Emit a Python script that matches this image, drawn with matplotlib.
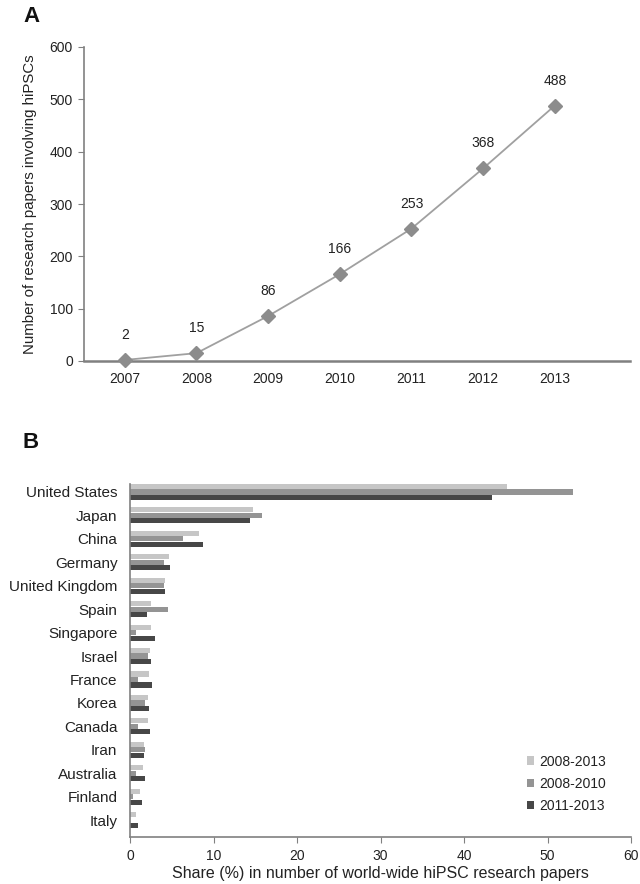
import matplotlib
matplotlib.use("Agg")
import matplotlib.pyplot as plt
import numpy as np

plt.rcParams['font.family'] = ['Liberation Sans', 'DejaVu Sans']

years = [2007, 2008, 2009, 2010, 2011, 2012, 2013]
papers = [2, 15, 86, 166, 253, 368, 488]

countries = ["United States", "Japan", "China", "Germany", "United Kingdom", "Spain",
             "Singapore", "Israel", "France", "Korea", "Canada", "Iran", "Australia",
             "Finland", "Italy"]
share_2008_2013 = [45.2, 14.7, 8.3, 4.7, 4.15, 2.5, 2.5, 2.4, 2.3, 2.2, 2.1, 1.7, 1.5, 1.2, 0.7]
share_2008_2010 = [53.0, 15.8, 6.3, 4.1, 4.1, 4.5, 0.7, 2.15, 1.0, 1.8, 1.0, 1.8, 0.7, 0.3, 0.0]
share_2011_2013 = [43.4, 14.4, 8.8, 4.8, 4.2, 2.0, 3.0, 2.5, 2.6, 2.3, 2.4, 1.7, 1.75, 1.4, 0.9]
series_labels = ["2008-2013", "2008-2010", "2011-2013"]
series_colors = ["#c6c6c6", "#949494", "#474747"]

W, H = 640, 884
fig = plt.figure(figsize=(W / 100, H / 100), dpi=100)

def frac(x0, y0, x1, y1):
    return [x0 / W, 1 - y1 / H, (x1 - x0) / W, (y1 - y0) / H]

spine_c = "#808080"
txt_c = "#222222"

# Panel A
ax1 = fig.add_axes(frac(84, 47, 630, 361))
ax1.plot(years, papers, color="#a0a0a0", lw=1.3, marker="D", markersize=7,
         markerfacecolor="#8c8c8c", markeredgecolor="#8c8c8c", zorder=3, clip_on=False)
for x, y in zip(years, papers):
    ax1.annotate(str(y), (x, y), xytext=(0, 13), textcoords="offset points",
                 ha="center", va="bottom", fontsize=10, color=txt_c)
ax1.set_xlim(2006.43, 2014.05)
ax1.set_ylim(0, 600)
ax1.set_yticks(range(0, 601, 100))
ax1.set_xticks(years)
for s in ["top", "right"]:
    ax1.spines[s].set_visible(False)
ax1.spines["left"].set_color(spine_c)
ax1.spines["bottom"].set_color(spine_c)
ax1.spines["left"].set_linewidth(1.2)
ax1.spines["bottom"].set_linewidth(1.8)
ax1.tick_params(axis="y", length=4, color=spine_c, labelsize=10, labelcolor=txt_c, pad=4)
ax1.tick_params(axis="x", length=0, labelsize=10, labelcolor=txt_c, pad=8)
ax1.set_ylabel("Number of research papers involving hiPSCs", fontsize=10.8, color=txt_c, labelpad=9)
fig.text(23 / W, 1 - 16 / H, "A", fontsize=16, fontweight="bold", ha="left", va="center", color="#111111")

# Panel B
ax2 = fig.add_axes(frac(130, 484, 631, 837))
pos = np.arange(len(countries))
bh = 0.22
offsets = [-0.235, 0.0, 0.235]
for vals, lab, col, off in zip([share_2008_2013, share_2008_2010, share_2011_2013],
                               series_labels, series_colors, offsets):
    ax2.barh(pos + off, vals, height=bh, color=col, label=lab)
ax2.set_ylim(14.72, -0.34)
ax2.set_xlim(0, 60)
ax2.set_xticks(range(0, 61, 10))
ax2.set_yticks(pos)
ax2.set_yticklabels(countries)
for s in ["top", "right"]:
    ax2.spines[s].set_visible(False)
ax2.spines["left"].set_color(spine_c)
ax2.spines["bottom"].set_color(spine_c)
ax2.spines["left"].set_linewidth(1.2)
ax2.spines["bottom"].set_linewidth(1.2)
ax2.tick_params(axis="y", length=0, labelsize=11, labelcolor=txt_c, pad=9)
ax2.tick_params(axis="x", length=4, color=spine_c, labelsize=10, labelcolor=txt_c, pad=5)
ax2.set_xlabel("Share (%) in number of world-wide hiPSC research papers", fontsize=11.5,
               color=txt_c, labelpad=2)
leg = ax2.legend(loc="lower right", bbox_to_anchor=(0.975, 0.032), frameon=False, fontsize=10,
                 handlelength=0.55, handleheight=0.55, handletextpad=0.35, labelspacing=0.6,
                 labelcolor=txt_c)
fig.text(23 / W, 1 - 443 / H, "B", fontsize=16, fontweight="bold", ha="left", va="center", color="#111111")

fig.savefig("out.png", dpi=100)
